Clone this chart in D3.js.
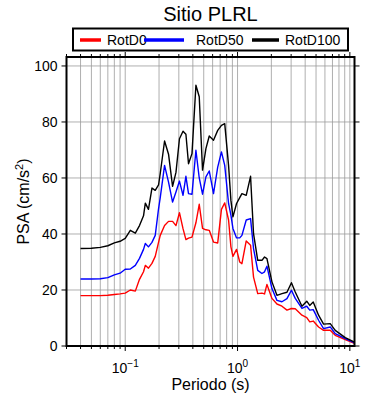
<!DOCTYPE html>
<html>
<head>
<meta charset="utf-8">
<script src="https://cdn.jsdelivr.net/npm/d3@7"></script>
<style>
  body { margin: 0; background: #fff; }
  svg text { font-family: "Liberation Sans", Arial, Helvetica, sans-serif; }
</style>
</head>
<body>
<div id="chart"></div>
<script>
// periods (s) and spectral accelerations
const periods = [0.04, 0.05, 0.06, 0.07, 0.08, 0.09, 0.10, 0.111, 0.123, 0.134, 0.1455, 0.151, 0.161, 0.173, 0.185,
  0.198, 0.205, 0.224, 0.243, 0.264, 0.283, 0.304, 0.327, 0.347, 0.366, 0.393, 0.426, 0.456, 0.488, 0.523,
  0.56, 0.611, 0.666, 0.719, 0.769, 0.832, 0.873, 0.91, 0.98, 1.046, 1.094, 1.195, 1.306, 1.388, 1.513,
  1.649, 1.74, 1.827, 2.025, 2.243, 2.486, 2.754, 3.02, 3.265, 3.746, 4.133, 4.395, 4.72, 5.265, 5.834,
  6.69, 7.41, 9.1, 11];

const rotD0 = [18.0, 18.0, 18.0, 18.1, 18.4, 18.6, 18.9, 20.0, 19.6, 23.8, 26.5, 28.8, 27.8, 29.5, 32.0,
  37.0, 39.5, 43.0, 44.5, 44.5, 43.0, 47.6, 41.9, 38.0, 38.5, 38.9, 44.0, 50.6, 42.0, 41.5,
  41.3, 37.1, 36.8, 48.8, 51.1, 45.0, 35.4, 32.0, 34.5, 30.0, 29.4, 37.5, 36.0, 24.6, 18.7,
  18.9, 18.6, 22.0, 17.0, 15.0, 14.2, 12.8, 13.4, 13.3, 11.0, 10.1, 8.6, 8.9, 6.8, 5.6,
  5.6, 3.8, 2.3, 0.9];

const rotD50 = [23.9, 23.9, 24.0, 24.4, 25.4, 26.0, 27.4, 27.5, 28.8, 31.3, 34.5, 36.6, 35.4, 37.0, 39.5,
  49.0, 53.0, 64.5, 58.5, 51.4, 55.0, 58.9, 53.8, 60.6, 54.4, 54.2, 69.9, 60.0, 54.2, 60.4,
  62.5, 54.4, 63.9, 69.3, 64.5, 50.9, 46.7, 42.0, 38.6, 38.6, 39.5, 45.0, 45.5, 34.8, 27.0,
  25.9, 26.5, 28.5, 20.5, 16.3, 15.8, 16.9, 19.9, 17.0, 13.4, 14.2, 12.8, 13.0, 9.2, 6.2,
  6.8, 4.4, 2.6, 1.1];

const rotD100 = [34.8, 34.9, 35.2, 35.8, 36.8, 37.4, 38.4, 41.3, 40.3, 43.0, 46.5, 51.0, 48.8, 56.4, 55.6,
  57.5, 61.6, 73.2, 68.5, 57.0, 62.0, 74.0, 76.7, 75.6, 65.1, 68.7, 93.1, 89.0, 62.8, 70.5,
  75.0, 73.5, 77.0, 78.8, 79.4, 64.5, 52.0, 46.1, 50.9, 53.0, 54.4, 53.8, 60.6, 40.1, 30.6,
  30.6, 31.8, 31.2, 22.9, 18.1, 18.7, 19.2, 22.6, 19.3, 14.2, 16.0, 14.5, 15.7, 11.0, 7.8,
  8.0, 5.6, 3.0, 1.4];

const seriesNames = ['RotD0', 'RotD50', 'RotD100'];
const seriesColors = ['#ff0000', '#0000ff', '#000000'];
const yTicks = [0, 20, 40, 60, 80, 100];
const xMajor = [0.1, 1, 10];
const xMajorExp = ['\u22121', '0', '1'];

const W = 390, H = 400;
const margin = {top: 57, right: 35.5, bottom: 54, left: 66.5};
const width = W - margin.left - margin.right;
const height = H - margin.top - margin.bottom;

const svg = d3.select('#chart').append('svg')
  .attr('width', W)
  .attr('height', H);

const g = svg.append('g')
  .attr('transform', 'translate(' + margin.left + ',' + margin.top + ')');

const x = d3.scaleLog().domain([0.03, 11]).range([0, width]);
const y = d3.scaleLinear().domain([0, 103.2]).range([height, 0]);

const allTicks = x.ticks();
const isMajor = t => xMajor.some(m => Math.abs(m - t) / m < 1e-6);

// grid
g.append('g').selectAll('line.vg')
  .data(allTicks.filter(t => t > 0.03))
  .enter().append('line')
  .attr('x1', d => x(d)).attr('x2', d => x(d))
  .attr('y1', 0).attr('y2', height)
  .attr('stroke', '#9a9a9a').attr('stroke-width', 0.8);

g.append('g').selectAll('line.hg')
  .data(yTicks.filter(t => t > 0))
  .enter().append('line')
  .attr('x1', 0).attr('x2', width)
  .attr('y1', d => y(d)).attr('y2', d => y(d))
  .attr('stroke', '#9a9a9a').attr('stroke-width', 0.8);

// curves
const line = d3.line()
  .x((d, i) => x(periods[i]))
  .y(d => y(d));

[rotD0, rotD50, rotD100].forEach((s, k) => {
  g.append('path')
    .datum(s)
    .attr('d', line)
    .attr('fill', 'none')
    .attr('stroke', seriesColors[k])
    .attr('stroke-width', 1.4)
    .attr('stroke-linejoin', 'round');
});

// ticks on all four sides
const ticksG = g.append('g').attr('stroke', '#000').attr('stroke-width', 1);
allTicks.forEach(t => {
  const len = isMajor(t) ? 5 : 3;
  ticksG.append('line').attr('x1', x(t)).attr('x2', x(t)).attr('y1', height).attr('y2', height + len);
  ticksG.append('line').attr('x1', x(t)).attr('x2', x(t)).attr('y1', 0).attr('y2', -len);
});
yTicks.forEach(t => {
  ticksG.append('line').attr('x1', 0).attr('x2', -5).attr('y1', y(t)).attr('y2', y(t));
  ticksG.append('line').attr('x1', width).attr('x2', width + 5).attr('y1', y(t)).attr('y2', y(t));
});

// frame
g.append('rect')
  .attr('x', 0).attr('y', 0)
  .attr('width', width).attr('height', height)
  .attr('fill', 'none')
  .attr('stroke', '#000')
  .attr('stroke-width', 2);

// y tick labels
g.append('g').selectAll('text')
  .data(yTicks)
  .enter().append('text')
  .attr('x', -9)
  .attr('y', d => y(d))
  .attr('dy', '0.35em')
  .attr('text-anchor', 'end')
  .attr('font-size', 14)
  .text(d => d);

// x tick labels with exponent
xMajor.forEach((t, i) => {
  const tx = g.append('text')
    .attr('x', x(t))
    .attr('y', height + 27)
    .attr('text-anchor', 'middle')
    .attr('font-size', 14);
  tx.append('tspan').text('10');
  tx.append('tspan')
    .attr('dy', -6)
    .attr('font-size', 10)
    .text(xMajorExp[i]);
});

// axis titles
g.append('text')
  .attr('x', width / 2)
  .attr('y', height + 44)
  .attr('text-anchor', 'middle')
  .attr('font-size', 16)
  .text('Periodo (s)');

const yl = g.append('text')
  .attr('transform', 'translate(' + (-38) + ',' + (height / 2) + ') rotate(-90)')
  .attr('text-anchor', 'middle')
  .attr('font-size', 16);
yl.append('tspan').text('PSA (cm/s');
yl.append('tspan').attr('dy', -6).attr('font-size', 11).text('2');
yl.append('tspan').attr('dy', 6).text(')');

// title
svg.append('text')
  .attr('x', margin.left + width / 2)
  .attr('y', 21)
  .attr('text-anchor', 'middle')
  .attr('font-size', 20)
  .text('Sitio PLRL');

// legend
const leg = svg.append('g');
leg.append('rect')
  .attr('x', 73).attr('y', 28.5)
  .attr('width', 275).attr('height', 22)
  .attr('fill', '#fff')
  .attr('stroke', '#000')
  .attr('stroke-width', 2);

const legLines = [[80, 101], [144, 184], [252, 279]];
const legText = [107, 196, 285];
seriesNames.forEach((n, k) => {
  leg.append('line')
    .attr('x1', legLines[k][0]).attr('x2', legLines[k][1])
    .attr('y1', 40).attr('y2', 40)
    .attr('stroke', seriesColors[k])
    .attr('stroke-width', 3.5);
  leg.append('text')
    .attr('x', legText[k])
    .attr('y', 45)
    .attr('font-size', 14)
    .text(n);
});
</script>
</body>
</html>
